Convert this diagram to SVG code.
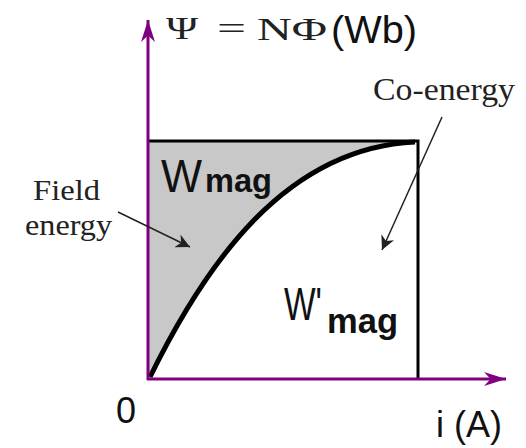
<svg xmlns="http://www.w3.org/2000/svg" width="526" height="448" viewBox="0 0 526 448">
<defs>
<style>
.ax{stroke:#800080;stroke-width:3;fill:none}
.bx{stroke:#000;stroke-width:3;fill:none}
.serif{font-family:"Liberation Serif","Times New Roman",serif;fill:#222}
.sans{font-family:"Liberation Sans",Arial,sans-serif;fill:#111}
.lead{stroke:#222;stroke-width:1.5;fill:none}
</style>
<marker id="ah" viewBox="0 0 10 10" refX="10" refY="5" markerWidth="14" markerHeight="14" markerUnits="userSpaceOnUse" orient="auto"><path d="M0,0 L10,5 L0,10 L3,5 Z" fill="#222"/></marker>
<marker id="axh" viewBox="0 0 10 10" refX="10" refY="5" markerWidth="22" markerHeight="14" markerUnits="userSpaceOnUse" orient="auto" preserveAspectRatio="none"><path d="M0,0 L10,5 L0,10 L3,5 Z" fill="#800080"/></marker>
</defs>
<rect width="526" height="448" fill="#fff"/>
<g id="field-region">
<path d="M149,141 L414,141 C285,148 205,265 150,376 L149,376 Z" fill="#c8c8c8"/>
</g>
<g id="box">
<path class="bx" d="M149,141 L418,141 L418,378"/>
</g>
<g id="curve">
<path d="M150,377 C205,265 285,148 415,142" stroke="#000" stroke-width="5" fill="none"/>
</g>
<g id="axes">
<path class="ax" d="M148,380 L148,20" marker-end="url(#axh)"/>
<path class="ax" d="M147,379 L506,379" marker-end="url(#axh)"/>
</g>
<g id="connectors">
<path class="lead" d="M118,212 L190,247" marker-end="url(#ah)"/>
<path class="lead" d="M442,117 L382,250" marker-end="url(#ah)"/>
</g>
<g id="y-label">
<text class="serif" x="166" y="39" font-size="31" textLength="32" lengthAdjust="spacingAndGlyphs">Ψ</text>
<text class="serif" x="217" y="39" font-size="32" textLength="29" lengthAdjust="spacingAndGlyphs">=</text>
<text class="serif" x="257" y="40" font-size="32" textLength="70" lengthAdjust="spacingAndGlyphs">NΦ</text>
<text class="sans" x="331" y="43" font-size="38" textLength="86" lengthAdjust="spacingAndGlyphs">(Wb)</text>
</g>
<g id="x-label">
<text class="sans" x="436" y="437" font-size="36">i (A)</text>
<text class="sans" x="116" y="423" font-size="36">0</text>
</g>
<g id="co-energy">
<text class="serif" x="373" y="100" font-size="31" textLength="142" lengthAdjust="spacingAndGlyphs">Co-energy</text>
</g>
<g id="field-energy">
<text class="serif" x="33" y="200" font-size="30" textLength="67" lengthAdjust="spacingAndGlyphs">Field</text>
<text class="serif" x="25" y="235" font-size="30" textLength="87" lengthAdjust="spacingAndGlyphs">energy</text>
</g>
<g id="wmag">
<text class="sans" x="161" y="192" font-size="46" textLength="41" lengthAdjust="spacingAndGlyphs">W</text>
<text class="sans" x="205" y="192" font-size="34" font-weight="bold" textLength="67" lengthAdjust="spacingAndGlyphs">mag</text>
</g>
<g id="wmag-prime">
<text class="sans" x="284" y="320" font-size="46" textLength="38" lengthAdjust="spacingAndGlyphs">W'</text>
<text class="sans" x="327" y="333" font-size="35" font-weight="bold" textLength="71" lengthAdjust="spacingAndGlyphs">mag</text>
</g>
</svg>
